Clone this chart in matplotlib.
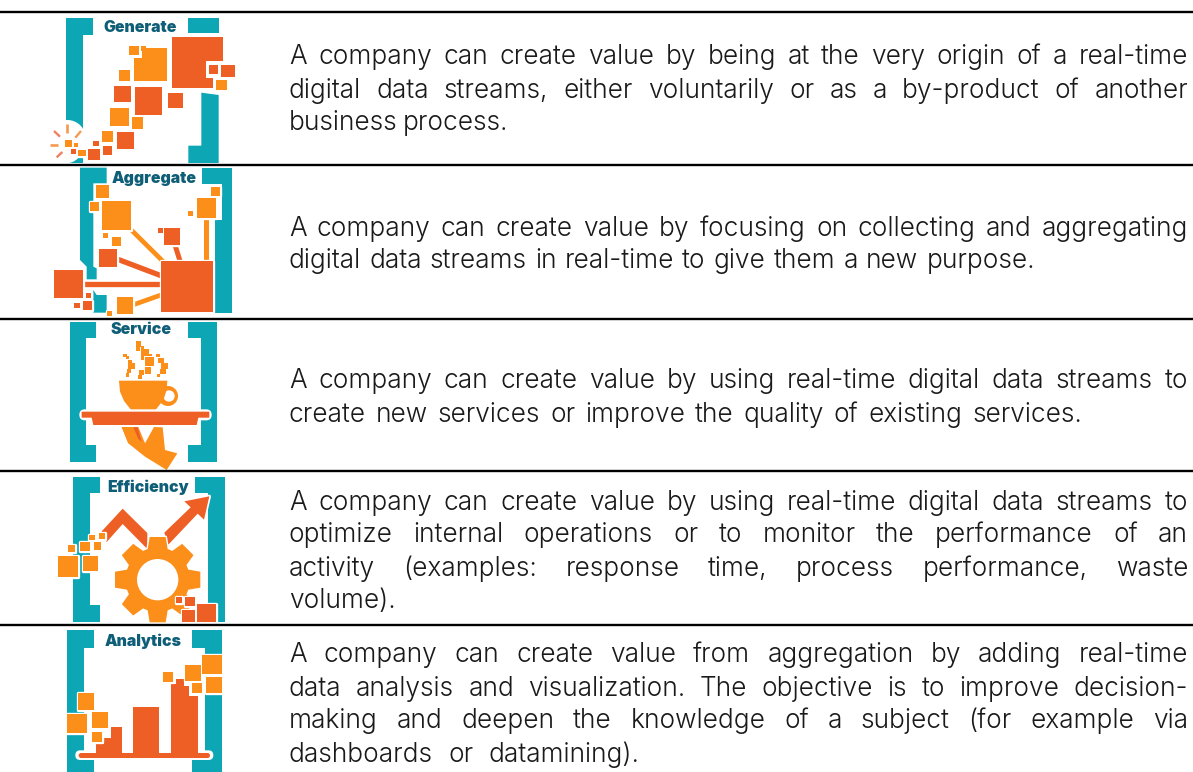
import numpy as np
import matplotlib
matplotlib.use("Agg")
import matplotlib.pyplot as plt
from matplotlib.patches import Polygon, FancyBboxPatch, Circle

categories = ["Generate", "Aggregate", "Service", "Efficiency", "Analytics"]
descriptions = [
    ["A company can create value by being at the very origin of a real-time",
     "digital data streams, either voluntarily or as a by-product of another",
     "business process."],
    ["A company can create value by focusing on collecting and aggregating",
     "digital data streams in real-time to give them a new purpose."],
    ["A company can create value by using real-time digital data streams to",
     "create new services or improve the quality of existing services."],
    ["A company can create value by using real-time digital data streams to",
     "optimize internal operations or to monitor the performance of an",
     "activity (examples: response time, process performance, waste",
     "volume)."],
    ["A company can create value from aggregation by adding real-time",
     "data analysis and visualization. The objective is to improve decision-",
     "making and deepen the knowledge of a subject (for example via",
     "dashboards or datamining)."],
]

# layout
W, H = 1193, 772
rule_y = [12, 165, 319, 471, 625]
baselines = [[64.5, 97.5, 130.5], [235.5, 268.5], [388.5, 421.5], [509.5, 542.5, 575.5, 608.5],
             [661.5, 695.5, 728.5, 761.5]]
line_ends = [[1188, 1188, 483], [1188, 1035], [1188, 1082], [1188, 1188, 1188, 371], [1188, 1188, 1188, 640]]
label_pos = [(140, 27), (154, 178), (141, 330), (148, 487), (143, 641)]
icon_origin = [(30, 0), (30, 160), (30, 315), (30, 468), (30, 622)]

TEAL, ORANGE, RED, NAVY = "#0DA6B4", "#FC8E1A", "#EE5F25", "#0F5E78"

fig = plt.figure(figsize=(W / 100, H / 100), dpi=100, facecolor="white")
ax = fig.add_axes([0, 0, 1, 1])
ax.set_xlim(0, W)
ax.set_ylim(H, 0)
ax.axis("off")


class Icon:
    """Draws in the coordinates of a 3x view of the icon."""
    def __init__(self, origin):
        self.ox, self.oy = origin

    def xy(self, pts):
        return [(self.ox + x / 3, self.oy + y / 3) for x, y in pts]

    def poly(self, pts, color, halo=0, z=2):
        if halo:
            ax.add_patch(Polygon(self.xy(pts), closed=True, facecolor="white", edgecolor="white",
                                 linewidth=halo, zorder=z, joinstyle="round"))
        ax.add_patch(Polygon(self.xy(pts), closed=True, facecolor=color, edgecolor="none",
                             zorder=z + 0.01))

    def squares(self, boxes, color, halo=2.4, z=3):
        for x0, y0, x1, y1 in boxes:
            self.poly([(x0, y0), (x1, y0), (x1, y1), (x0, y1)], color, halo, z)

    def line(self, x0, y0, x1, y1, color, w, z=2.5):
        p = self.xy([(x0, y0), (x1, y1)])
        ax.plot([p[0][0], p[1][0]], [p[0][1], p[1][1]], color=color,
                lw=w / 3 * 0.72, solid_capstyle="butt", zorder=z)

    def bar(self, x0, y0, x1, y1, color, z=3):
        (a, b), (c, d) = self.xy([(x0, y0), (x1, y1)])
        r = (d - b) / 2
        ax.add_patch(FancyBboxPatch((a + r, b + r), c - a - 2 * r, 0.01,
                                    boxstyle=f"round,pad={r}", facecolor=color,
                                    edgecolor="none", zorder=z))

    def disc(self, x, y, r, color, z=2.2):
        (a, b), = self.xy([(x, y)])
        ax.add_patch(Circle((a, b), r / 3, facecolor=color, edgecolor="none", zorder=z))


# Generate
ic = Icon(icon_origin[0])
ic.poly([(108, 54), (188, 54), (188, 104), (158, 104), (158, 489), (108, 489)], TEAL)
ic.poly([(475, 54), (566, 54), (566, 99), (475, 99)], TEAL)
ic.poly([(514, 278), (566, 285), (566, 489), (475, 489), (475, 437), (514, 437)], TEAL)
ic.disc(112, 415, 55, "white")
ic.disc(108, 440, 50, "white")
ic.disc(145, 425, 36, "white")
ic.squares([(427, 111, 580, 265)], RED)
ic.squares([(528, 184, 600, 235), (549, 235, 600, 278)], "white", 0)
ic.squares([(312, 145, 411, 244), (266, 210, 300, 244), (240, 323, 296, 378), (306, 351, 338, 386),
            (216, 394, 248, 426), (105, 420, 125, 440), (132, 430, 143, 442), (145, 450, 167, 469),
            (558, 241, 590, 270)], ORANGE)
ic.squares([(297, 137, 337, 175)], "white", 0, 3.1)
ic.squares([(297, 137, 327, 165), (332, 138, 348, 153)], ORANGE, 0, 3.2)
ic.squares([(253, 257, 303, 307), (315, 262, 396, 345), (414, 278, 458, 325), (261, 397, 311, 446),
            (219, 439, 246, 466), (189, 423, 206, 437), (174, 448, 209, 481), (124, 447, 138, 461),
            (537, 196, 564, 223), (574, 194, 614, 232)], RED)
ic.line(112, 373, 112, 398, "#F59A50", 8)
ic.line(72, 393, 90, 410, "#F08060", 7)
ic.line(136, 413, 153, 393, "#F59A50", 7)
ic.line(60, 436, 83, 436, "#F59A50", 8)
ic.line(80, 472, 97, 456, "#F08060", 7)

# Aggregate
ic = Icon(icon_origin[1])
ic.poly([(150, 23), (230, 23), (230, 70), (190, 70), (190, 320), (200, 325), (200, 358), (170, 358),
         (170, 320), (150, 300)], TEAL)
ic.poly([(190, 390), (200, 405), (230, 405), (230, 458), (190, 458)], TEAL)
ic.poly([(517, 23), (607, 23), (607, 458), (555, 458), (555, 180), (575, 180), (575, 72), (517, 72)], TEAL)
ic.line(303, 209, 400, 305, ORANGE, 14)
ic.line(435, 255, 450, 303, RED, 15)
ic.line(527, 173, 527, 303, ORANGE, 15)
ic.line(261, 297, 393, 347, RED, 16)
ic.line(159, 373, 393, 373, RED, 16)
ic.line(308, 435, 393, 405, ORANGE, 14)
ic.squares([(198, 75, 238, 115), (180, 125, 207, 152), (217, 123, 303, 209), (220, 220, 235, 235),
            (245, 231, 272, 258), (261, 411, 308, 461), (230, 453, 246, 467), (501, 115, 559, 173),
            (542, 80, 569, 107), (475, 154, 490, 169)], ORANGE)
ic.squares([(384, 203, 399, 218), (403, 205, 450, 255), (208, 268, 261, 321), (72, 329, 159, 415),
            (393, 303, 548, 456), (168, 399, 183, 414), (159, 423, 186, 450), (133, 429, 149, 443)], RED)

# Service
ic = Icon(icon_origin[2])
ic.poly([(119, 22), (197, 22), (197, 70), (169, 70), (169, 390), (197, 390), (197, 440), (119, 440)], TEAL)
ic.poly([(474, 22), (562, 22), (562, 440), (474, 440), (474, 390), (512, 390), (512, 70), (474, 70)], TEAL)
ic.squares([(317, 79, 333, 95), (319, 95, 331, 107), (334, 94, 343, 103), (334, 103, 356, 123),
            (332, 123, 341, 135), (355, 116, 365, 124), (344, 126, 373, 154), (344, 157, 363, 177),
            (327, 164, 343, 181), (325, 179, 335, 191), (279, 117, 291, 127), (289, 123, 298, 133),
            (295, 135, 305, 145), (295, 144, 316, 163), (292, 162, 304, 174), (287, 174, 296, 186),
            (379, 117, 389, 127), (385, 129, 401, 143), (393, 144, 413, 163), (391, 162, 409, 177),
            (381, 177, 391, 187)], ORANGE, 0)
ic.disc(414, 243, 30, ORANGE, 3)
ic.disc(417, 243, 17, "white", 3.1)
ic.poly([(267, 197), (412, 197), (410, 225), (400, 255), (375, 287), (305, 287), (282, 258), (270, 230)],
        ORANGE, 0, 3.2)
ic.bar(148, 283, 545, 316, "white", 3.3)
ic.poly([(155, 290), (538, 290), (538, 308), (505, 308), (500, 330), (190, 330), (185, 308), (155, 308)],
        RED, 0, 3.4)
ic.poly([(275, 336), (372, 336), (398, 337), (405, 405), (442, 415), (410, 465), (345, 425), (295, 385)],
        ORANGE, 0, 3.2)
ic.poly([(345, 385), (372, 336), (325, 336)], "white", 0, 3.25)
ic.poly([(275, 336), (310, 336), (345, 385), (295, 385)], ORANGE, 0, 3.3)
ic.poly([(310, 337), (323, 337), (335, 380), (325, 372)], RED, 0, 3.35)

# Efficiency
ic = Icon(icon_origin[3])
ic.poly([(129, 27), (209, 27), (209, 75), (180, 75), (180, 410), (209, 410), (209, 463), (129, 463)], TEAL)
ic.poly([(496, 27), (586, 27), (586, 463), (534, 463), (534, 75), (496, 75)], TEAL)
ic.poly([(215, 190), (278, 122), (352, 195), (352, 243), (278, 168), (230, 222)], RED, 2.4, 3)
ic.poly([(403, 194), (482, 118), (463, 100), (538, 85), (522, 155), (503, 137), (415, 230)], RED, 2.4, 3)
teeth_n = 8
gear = []
for i in range(teeth_n):
    a = 2 * np.pi * i / teeth_n
    ca, sa = np.cos(a), np.sin(a)
    for r, off in [(92, -30), (128, -24), (128, 24), (92, 30)]:
        gear.append((383 + r * ca - off * sa, 335 + r * sa + off * ca))
ic.poly(gear, ORANGE, 2.0, 3.2)
ic.disc(383, 335, 62, "white", 3.3)
ic.squares([(85, 265, 143, 327), (158, 264, 203, 310), (150, 222, 179, 250), (191, 222, 214, 246),
            (113, 230, 136, 252), (177, 200, 194, 215), (208, 196, 226, 213)], ORANGE, 2.4, 3.5)
ic.squares([(502, 407, 558, 463), (457, 426, 495, 463), (465, 387, 495, 415), (439, 387, 457, 404)],
           RED, 2.4, 3.5)

# Analytics
ic = Icon(icon_origin[4])
ic.poly([(111, 25), (193, 25), (193, 77), (163, 77), (163, 415), (193, 415), (193, 450), (111, 450)], TEAL)
ic.poly([(486, 25), (576, 25), (576, 450), (486, 450), (486, 415), (526, 415), (526, 92), (526, 77), (486, 77)], TEAL)
ic.bar(136, 385, 550, 414, "white", 3)
ic.bar(146, 393, 540, 408, RED, 3.1)
ic.squares([(198, 367, 222, 395), (222, 347, 243, 395), (243, 315, 276, 395), (309, 254, 388, 395),
            (424, 185, 437, 395), (437, 170, 461, 395), (461, 191, 476, 395), (476, 221, 503, 395)], RED, 0, 3.1)
ic.squares([(143, 214, 192, 263), (110, 275, 171, 333), (185, 270, 233, 318), (186, 330, 216, 360),
            (399, 151, 428, 180), (465, 130, 513, 176), (487, 184, 516, 213), (517, 99, 576, 157),
            (528, 166, 576, 213)], ORANGE, 2.4, 3.5)

# Rules
for y in rule_y:
    ax.plot([0, W], [y, y], color="black", lw=1.7, solid_capstyle="butt", zorder=6)

# Labels
for name, (x, y) in zip(categories, label_pos):
    ax.text(x, y, name, color=NAVY, fontsize=11.4, fontweight=900, family="Inter",
            ha="center", va="center", zorder=5)

# Justified description text
renderer = fig.canvas.get_renderer()
X0 = 289
TEXT = dict(family="Inter", fontweight=300, fontsize=18.9, color="#1a1a1a", va="baseline", ha="left", zorder=5)


def width(t):
    return t.get_window_extent(renderer).width


for lines, ys, ends in zip(descriptions, baselines, line_ends):
    for line, y, end in zip(lines, ys, ends):
        words = [ax.text(X0, y, w, **TEXT) for w in line.split()]
        widths = [width(t) for t in words]
        gap = max((end - X0 - sum(widths)) / max(len(words) - 1, 1), 5.0)
        x = X0
        for t, w in zip(words, widths):
            t.set_x(x)
            x += w + gap

fig.savefig("out.png", dpi=100, facecolor="white")
